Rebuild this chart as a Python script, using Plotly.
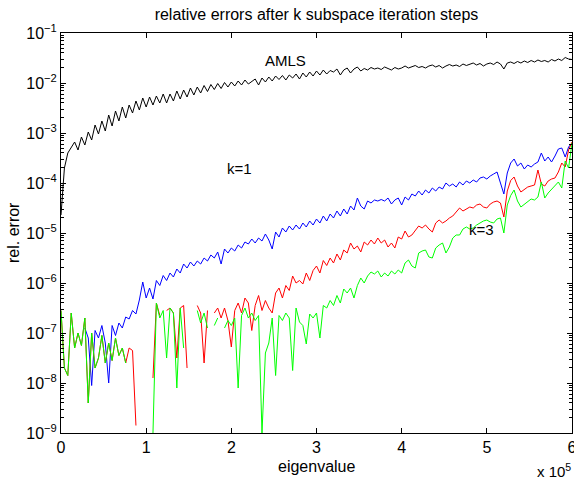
import plotly.graph_objects as go

# eigenvalue positions (units of 1e5)
eigenvalue = [
    0.00, 0.04, 0.08, 0.12, 0.16, 0.20, 0.24, 0.28, 0.32, 0.36,
    0.40, 0.44, 0.48, 0.52, 0.56, 0.60, 0.64, 0.68, 0.72, 0.76,
    0.80, 0.84, 0.88, 0.92, 0.96, 1.00, 1.04, 1.08, 1.12, 1.16,
    1.20, 1.24, 1.28, 1.32, 1.36, 1.40, 1.44, 1.48, 1.52, 1.56,
    1.60, 1.64, 1.68, 1.72, 1.76, 1.80, 1.84, 1.88, 1.92, 1.96,
    2.00, 2.04, 2.08, 2.12, 2.16, 2.20, 2.24, 2.28, 2.32, 2.36,
    2.40, 2.44, 2.48, 2.52, 2.56, 2.60, 2.64, 2.68, 2.72, 2.76,
    2.80, 2.84, 2.88, 2.92, 2.96, 3.00, 3.04, 3.08, 3.12, 3.16,
    3.20, 3.24, 3.28, 3.32, 3.36, 3.40, 3.44, 3.48, 3.52, 3.56,
    3.60, 3.64, 3.68, 3.72, 3.76, 3.80, 3.84, 3.88, 3.92, 3.96,
    4.00, 4.04, 4.08, 4.12, 4.16, 4.20, 4.24, 4.28, 4.32, 4.36,
    4.40, 4.44, 4.48, 4.52, 4.56, 4.60, 4.64, 4.68, 4.72, 4.76,
    4.80, 4.84, 4.88, 4.92, 4.96, 5.00, 5.04, 5.08, 5.12, 5.16,
    5.20, 5.24, 5.28, 5.32, 5.36, 5.40, 5.44, 5.48, 5.52, 5.56,
    5.60, 5.64, 5.68, 5.72, 5.76, 5.80, 5.84, 5.88, 5.92, 5.96, 6.00,
]

# log10 of relative error (None = not drawn)
amls_log10 = [
    -4.64, -3.70, -3.40, -3.30, -3.18, -3.34, -3.08, -3.24, -2.98, -3.14,
    -2.84, -3.02, -2.76, -2.96, -2.64, -2.86, -2.56, -2.76, -2.48, -2.70,
    -2.44, -2.60, -2.36, -2.54, -2.30, -2.48, -2.28, -2.44, -2.26, -2.40,
    -2.22, -2.40, -2.22, -2.36, -2.16, -2.32, -2.14, -2.28, -2.10, -2.24,
    -2.08, -2.20, -2.05, -2.17, -2.03, -2.13, -2.01, -2.11, -1.99, -2.08,
    -1.98, -2.06, -1.96, -2.04, -1.94, -2.02, -1.97, -1.92, -2.04, -1.90,
    -1.98, -1.88, -1.96, -1.86, -1.93, -1.85, -1.94, -1.84, -1.90, -1.82,
    -1.92, -1.80, -1.88, -1.78, -1.86, -1.76, -1.84, -1.74, -1.82, -1.75,
    -1.78, -1.72, -1.84, -1.74, -1.70, -1.80, -1.72, -1.68, -1.76, -1.71,
    -1.74, -1.69, -1.72, -1.70, -1.73, -1.68, -1.71, -1.74, -1.69, -1.72,
    -1.70, -1.66, -1.70, -1.68, -1.65, -1.69, -1.67, -1.70, -1.66, -1.64,
    -1.68, -1.65, -1.70, -1.66, -1.63, -1.66, -1.64, -1.67, -1.62, -1.65,
    -1.63, -1.60, -1.64, -1.61, -1.66, -1.62, -1.60, -1.63, -1.58, -1.62,
    -1.72, -1.60, -1.58, -1.61, -1.57, -1.60, -1.56, -1.59, -1.55, -1.58,
    -1.54, -1.57, -1.55, -1.58, -1.53, -1.56, -1.52, -1.55, -1.49, -1.52, -1.53,
]

k1_log10 = [
    None, None, None, None, None, None, None, -6.90, -7.10, -8.05,
    -6.95, -7.10, -6.85, -7.20, -8.00, -6.85, -7.05, -6.80, -6.90, -6.68,
    -6.72, -6.55, -6.62, -6.34, -5.98, -6.30, -6.10, -6.32, -5.95, -6.05,
    -5.85, -5.95, -5.80, -5.88, -5.72, -5.80, -5.62, -5.70, -5.58, -5.66,
    -5.56, -5.62, -5.50, -5.56, -5.44, -5.50, -5.38, -5.62, -5.32, -5.40,
    -5.30, -5.36, -5.24, -5.30, -5.18, -5.22, -5.12, -5.20, -5.10, -5.16,
    -5.02, -5.14, -5.32, -4.98, -5.08, -4.90, -4.98, -4.86, -4.94, -4.84,
    -4.92, -4.80, -4.88, -4.76, -4.84, -4.72, -4.80, -4.66, -4.76, -4.62,
    -4.70, -4.56, -4.66, -4.52, -4.62, -4.46, -4.54, -4.30, -4.46, -4.52,
    -4.36, -4.40, -4.34, -4.36, -4.33, -4.36, -4.30, -4.42, -4.34, -4.30,
    -4.44, -4.28, -4.34, -4.22, -4.26, -4.16, -4.24, -4.14, -4.20, -4.10,
    -4.16, -4.08, -4.12, -4.00, -4.06, -4.02, -4.08, -3.98, -4.04, -3.96,
    -4.00, -3.94, -3.98, -3.90, -3.88, -3.92, -3.86, -3.82, -3.78, -4.00,
    -4.22, -3.80, -3.60, -3.52, -3.66, -3.60, -3.72, -3.64, -3.68, -3.62,
    -3.58, -3.40, -3.56, -3.48, -3.58, -3.46, -3.32, -3.30, -3.48, -3.28, -3.20,
]

k2_log10 = [
    -6.55, -7.70, -7.85, -6.60, -7.30, -7.00, -7.25, -6.70, -8.40, -7.00,
    -7.70, -7.50, -7.05, -7.60, -7.20, -7.55, -7.10, -7.45, -7.30, -7.60,
    -7.30, -7.35, -8.85, None, None, None, None, -7.90, -6.40, -6.65,
    None, -6.55, -6.50, -6.60, -7.50, -6.50, -6.45, -7.70, None, None,
    -6.45, -6.60, -7.60, -6.55, None, -6.60, -6.50, -6.70, -6.50, -6.75,
    -7.28, -6.55, -6.40, -6.60, -6.30, -6.40, -6.95, -6.45, -6.25, -6.55,
    -6.35, -6.50, -6.60, -6.20, -6.10, -6.30, -6.05, -6.15, -5.86, -6.00,
    -5.95, -6.02, -5.80, -5.95, -5.75, -5.66, -5.80, -5.55, -5.65, -5.50,
    -5.60, -5.42, -5.54, -5.34, -5.40, -5.20, -5.32, -5.26, -5.38, -5.18,
    -5.24, -5.14, -5.22, -5.10, -5.20, -5.14, -5.28, -5.20, -5.30, -5.08,
    -5.12, -4.96, -5.08, -5.04, -4.96, -4.86, -4.90, -4.84, -4.92, -4.98,
    -4.80, -4.74, -4.80, -4.76, -4.70, -4.66, -4.58, -4.50, -4.56, -4.52,
    -4.48, -4.50, -4.44, -4.42, -4.48, -4.50, -4.42, -4.38, -4.36, -4.40,
    -4.68, -4.16, -3.95, -3.88, -4.06, -4.18, -4.12, -4.08, -4.06, -4.04,
    -3.74, -4.02, -4.06, -3.96, -3.92, -3.90, -3.78, -3.60, -3.68, -3.34, -3.18,
]

k3_log10 = [
    -6.55, -7.70, -7.85, -6.60, -7.30, -7.00, -7.25, -6.70, -8.40, -7.00,
    -7.70, -7.50, -7.05, -7.60, -7.20, -7.55, -7.10, -7.45, -7.30, -7.60,
    None, None, None, None, None, None, None, -9.00, -6.40, -6.70,
    -6.55, -7.50, -6.50, -6.60, -8.10, -6.50, -7.30, None, None, None,
    -6.55, -6.80, -6.60, -6.90, None, -6.85, -6.70, None, -6.90, -6.75,
    -6.85, -6.70, -8.10, -6.65, -6.50, -6.70, -6.60, -6.75, -6.65, -9.00,
    -7.40, -7.20, -6.70, -7.85, -6.65, -6.75, -6.60, -6.70, -7.75, -6.50,
    -6.78, -6.85, -7.22, -6.62, -6.70, -6.60, -7.10, -6.45, -6.50, -6.35,
    -6.45, -6.25, -6.40, -6.12, -6.20, -6.10, -6.30, -6.05, -5.90, -6.00,
    -5.86, -5.78, -5.82, -5.76, -5.88, -5.80, -5.86, -5.76, -5.82, -5.74,
    -5.80, -5.60, -5.54, -5.66, -5.70, -5.40, -5.36, -5.34, -5.48, -5.50,
    -5.30, -5.24, -5.20, -5.40, -5.28, -5.10, -5.04, -5.04, -4.92, -4.88,
    -4.92, -4.90, -4.84, -4.80, -4.76, -4.74, -4.78, -4.80, -4.72, -4.70,
    -5.00, -4.44, -4.25, -4.14, -4.36, -4.48, -4.42, -4.38, -4.32, -4.34,
    -4.28, -3.98, -4.30, -4.20, -4.12, -4.04, -3.98, -4.10, -3.56, -3.70, -3.20,
]

series_names = ["AMLS", "k=1", "k=2", "k=3"]
series_colors = ["#000000", "#0000FF", "#FF0000", "#00FF00"]
series_logs = [amls_log10, k1_log10, k2_log10, k3_log10]

y_tickvals = [1e-9, 1e-8, 1e-7, 1e-6, 1e-5, 1e-4, 1e-3, 1e-2, 1e-1]
y_ticktext = ["10<sup>−9</sup>", "10<sup>−8</sup>", "10<sup>−7</sup>", "10<sup>−6</sup>",
              "10<sup>−5</sup>", "10<sup>−4</sup>", "10<sup>−3</sup>", "10<sup>−2</sup>",
              "10<sup>−1</sup>"]
x_tickvals = [0, 1, 2, 3, 4, 5, 6]


def to_err(vals):
    return [None if v is None else 10 ** v for v in vals]


FONT = "Liberation Sans, Arial, Helvetica, sans-serif"

fig = go.Figure()
for name, color, vals in zip(series_names, series_colors, series_logs):
    fig.add_trace(go.Scatter(
        x=eigenvalue, y=to_err(vals), mode="lines", name=name,
        line=dict(color=color, width=1), connectgaps=False, showlegend=False,
    ))

fig.update_layout(
    width=574, height=479,
    margin=dict(l=61, r=2, t=33, b=46, autoexpand=False),
    paper_bgcolor="white", plot_bgcolor="white",
    font=dict(family=FONT, size=16, color="black"),
    title=dict(text="relative errors after k subspace iteration steps",
               x=0.5, xref="paper", y=1 - 14 / 479, yref="container",
               xanchor="center", yanchor="middle",
               font=dict(family=FONT, size=16, color="black")),
    xaxis=dict(range=[0, 6], tickmode="array", tickvals=x_tickvals,
               ticks="inside", ticklen=5, tickcolor="black", mirror="ticks",
               showline=True, linecolor="black", linewidth=1, automargin=False,
               showgrid=False, zeroline=False, ticklabeloverflow="allow",
               tickfont=dict(family=FONT, size=16, color="black")),
    yaxis=dict(type="log", range=[-9, -1], tickmode="array",
               tickvals=y_tickvals, ticktext=y_ticktext,
               ticks="inside", ticklen=5, tickcolor="black", mirror="ticks",
               showline=True, linecolor="black", linewidth=1, automargin=False,
               showgrid=False, zeroline=False, ticklabeloverflow="allow",
               minor=dict(ticks="inside", ticklen=3, tickcolor="black",
                          dtick="D1", showgrid=False),
               tickfont=dict(family=FONT, size=16, color="black")),
    annotations=[
        dict(text="AMLS", x=2.64, y=-1.54, xref="x", yref="y", showarrow=False,
             font=dict(family=FONT, size=15)),
        dict(text="k=1", x=2.1, y=-3.71, xref="x", yref="y", showarrow=False,
             font=dict(family=FONT, size=15)),
        dict(text="k=3", x=4.94, y=-4.92, xref="x", yref="y", showarrow=False,
             font=dict(family=FONT, size=15)),
        dict(text="eigenvalue", x=0.5, y=-(466 - 433) / 400, xref="paper", yref="paper",
             showarrow=False, xanchor="center", yanchor="middle",
             font=dict(family=FONT, size=16)),
        dict(text="rel. error", x=(13 - 61) / 511, y=0.5, xref="paper", yref="paper",
             showarrow=False, textangle=-90, xanchor="center", yanchor="middle",
             font=dict(family=FONT, size=16)),
        dict(text="x 10<sup>5</sup>", x=(554 - 61) / 511, y=-(470 - 433) / 400,
             xref="paper", yref="paper", showarrow=False,
             xanchor="center", yanchor="middle", font=dict(family=FONT, size=15)),
    ],
)

fig.write_html("out.html")
